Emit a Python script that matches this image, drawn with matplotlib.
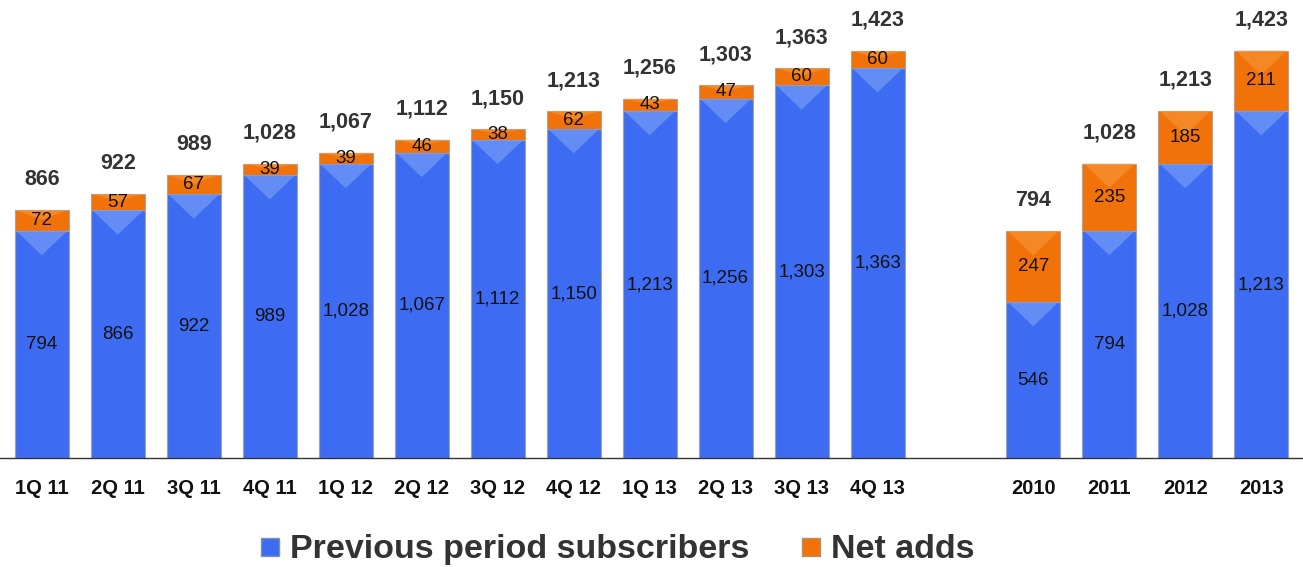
"""
Subscriber base: previous period subscribers plus net adds, quarterly and yearly
"""

import numpy as np
import matplotlib
matplotlib.use('Agg')
import matplotlib.pyplot as plt
from matplotlib.patches import Polygon
from matplotlib.lines import Line2D

plt.rcParams['font.family'] = ['Liberation Sans', 'DejaVu Sans']

quarters = ['1Q 11', '2Q 11', '3Q 11', '4Q 11', '1Q 12', '2Q 12', '3Q 12', '4Q 12',
            '1Q 13', '2Q 13', '3Q 13', '4Q 13']
q_prev = [794, 866, 922, 989, 1028, 1067, 1112, 1150, 1213, 1256, 1303, 1363]
q_net = [72, 57, 67, 39, 39, 46, 38, 62, 43, 47, 60, 60]
q_total = [866, 922, 989, 1028, 1067, 1112, 1150, 1213, 1256, 1303, 1363, 1423]

years = ['2010', '2011', '2012', '2013']
y_prev = [546, 794, 1028, 1213]
y_net = [247, 235, 185, 211]
y_total = [794, 1028, 1213, 1423]

labels = quarters + years
prev = np.array(q_prev + y_prev)
net = np.array(q_net + y_net)
total = np.array(q_total + y_total)
x = np.concatenate([np.arange(len(quarters)), np.arange(len(years)) + len(quarters) + 1.05])

blue = '#3d6cf2'
blue_light = '#6f95f7'
orange = '#f07208'
orange_light = '#f8973a'
w = 0.71

fig = plt.figure(figsize=(13.03, 5.67), dpi=100)
ax = fig.add_axes([0, 0.192, 1, 0.808])
ax.set_xlim(-0.55, 16.6)
ax.set_ylim(0, 1601)

ax.bar(x, prev, width=w, color=blue, edgecolor='#9aa4b8', linewidth=0.8, zorder=2)
ax.bar(x, net, bottom=prev, width=w, color=orange, edgecolor='#b8a090', linewidth=0.8, zorder=2)

# lighter chevron at the top of each segment
for xi, p, n in zip(x, prev, net):
    d = min(85, p * 0.5)
    ax.add_patch(Polygon([(xi - w / 2 + 0.02, p), (xi + w / 2 - 0.02, p), (xi, p - d)],
                         closed=True, color=blue_light, alpha=0.8, lw=0, zorder=3))
    d2 = min(85, n * 0.45)
    ax.add_patch(Polygon([(xi - w / 2 + 0.02, p + n), (xi + w / 2 - 0.02, p + n), (xi, p + n - d2)],
                         closed=True, color=orange_light, alpha=0.6, lw=0, zorder=3))

for xi, p, n, t in zip(x, prev, net, total):
    ax.text(xi, p / 2, '{:,}'.format(p), ha='center', va='center', fontsize=13.5, color='#111111', zorder=4)
    ax.text(xi, p + n / 2, '{:,}'.format(n), ha='center', va='center', fontsize=13.5, color='#111111', zorder=4)
    ax.annotate('{:,}'.format(t), (xi, p + n), xytext=(0, 22), textcoords='offset points',
                ha='center', va='center', fontsize=15.5, fontweight='bold', color='#333333')

ax.axhline(0, color='#333333', lw=1, zorder=5, clip_on=False)
ax.set_xticks(x)
ax.set_xticklabels(labels, fontsize=14.5, fontweight='bold', color='#111111')
ax.tick_params(axis='x', length=0, pad=15)
ax.set_yticks([])
for s in ax.spines.values():
    s.set_visible(False)

handles = [Line2D([], [], marker='s', ls='', markersize=13, markerfacecolor=blue, markeredgecolor='#8090b0'),
           Line2D([], [], marker='s', ls='', markersize=13, markerfacecolor=orange, markeredgecolor='#b09070')]
fig.legend(handles, ['Previous period subscribers', 'Net adds'], loc='center',
           bbox_to_anchor=(0.471, 0.03), ncol=2, frameon=False, handletextpad=0.1,
           handlelength=1.0, columnspacing=1.3, prop={'size': 24.5, 'weight': 'bold'}, labelcolor='#333333')

fig.savefig('out.png', dpi=100)
